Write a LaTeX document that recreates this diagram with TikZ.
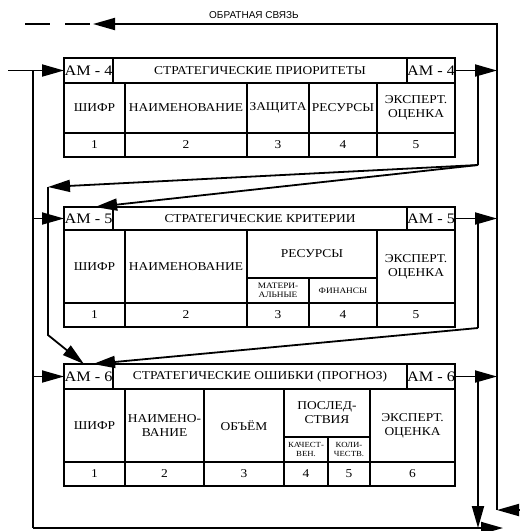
\documentclass[tikz,border=0pt]{standalone}
\usepackage{fontspec}
\setmainfont{Liberation Serif}[FakeStretch=1.12]
\newfontfamily\labelfont{Liberation Sans}
\usetikzlibrary{arrows.meta}

\begin{document}
\begin{tikzpicture}[x=1pt, y=-1pt,
                   cell/.style 2 args={draw, rectangle, line width=1.8pt, anchor=north west, outer sep=0pt, inner sep=0pt,
                                       minimum width=#1pt, minimum height=#2pt, align=center, font=\fontsize{12}{14}\selectfont},
                   amcell/.style={font=\fontsize{14.5}{16}\selectfont},
                   small/.style={font=\fontsize{8.3}{8.8}\selectfont},
                   tiny/.style={font=\fontsize{7.8}{8.3}\selectfont},
                   link/.style={line width=1.8pt},
                   arr/.style={line width=1.8pt, -{Triangle[length=22pt, width=12pt]}}]
\useasboundingbox (0,0) rectangle (520,531);

% table AM-4
\node[cell={49}{25}, amcell] (t1aml) at (64,58) {АМ - 4};
\node[cell={294}{25}] (t1head) at (113,58) {СТРАТЕГИЧЕСКИЕ ПРИОРИТЕТЫ};
\node[cell={48}{25}, amcell] (t1amr) at (407,58) {АМ - 4};
\node[cell={61}{50}] (t1code) at (64,83) {ШИФР};
\node[cell={122}{50}] (t1name) at (125,83) {НАИМЕНОВАНИЕ};
\node[cell={62}{50}] (t1prot) at (247,83) {ЗАЩИТА};
\node[cell={68}{50}] (t1res) at (309,83) {РЕСУРСЫ};
\node[cell={78}{50}] (t1exp) at (377,83) {ЭКСПЕРТ.\\ОЦЕНКА};
\node[cell={61}{24}] (t1n1) at (64,133) {1};
\node[cell={122}{24}] (t1n2) at (125,133) {2};
\node[cell={62}{24}] (t1n3) at (247,133) {3};
\node[cell={68}{24}] (t1n4) at (309,133) {4};
\node[cell={78}{24}] (t1n5) at (377,133) {5};

% table AM-5
\node[cell={49}{23}, amcell] (t2aml) at (64,207) {АМ - 5};
\node[cell={294}{23}] (t2head) at (113,207) {СТРАТЕГИЧЕСКИЕ КРИТЕРИИ};
\node[cell={48}{23}, amcell] (t2amr) at (407,207) {АМ - 5};
\node[cell={61}{73}] (t2code) at (64,230) {ШИФР};
\node[cell={122}{73}] (t2name) at (125,230) {НАИМЕНОВАНИЕ};
\node[cell={130}{48}] (t2res) at (247,230) {РЕСУРСЫ};
\node[cell={62}{25}, small] (t2mat) at (247,278) {МАТЕРИ-\\АЛЬНЫЕ};
\node[cell={68}{25}, small] (t2fin) at (309,278) {ФИНАНСЫ};
\node[cell={78}{73}] (t2exp) at (377,230) {ЭКСПЕРТ.\\ОЦЕНКА};
\node[cell={61}{24}] (t2n1) at (64,303) {1};
\node[cell={122}{24}] (t2n2) at (125,303) {2};
\node[cell={62}{24}] (t2n3) at (247,303) {3};
\node[cell={68}{24}] (t2n4) at (309,303) {4};
\node[cell={78}{24}] (t2n5) at (377,303) {5};

% table AM-6
\node[cell={49}{25}, amcell] (t3aml) at (64,364) {АМ - 6};
\node[cell={294}{25}] (t3head) at (113,364) {СТРАТЕГИЧЕСКИЕ ОШИБКИ (ПРОГНОЗ)};
\node[cell={48}{25}, amcell] (t3amr) at (407,364) {АМ - 6};
\node[cell={61}{73}] (t3code) at (64,389) {ШИФР};
\node[cell={79}{73}] (t3name) at (125,389) {НАИМЕНО-\\ВАНИЕ};
\node[cell={80}{73}] (t3vol) at (204,389) {ОБЪЁМ};
\node[cell={86}{48}] (t3eff) at (284,389) {ПОСЛЕД-\\СТВИЯ};
\node[cell={44}{25}, tiny] (t3qual) at (284,437) {КАЧЕСТ-\\ВЕН.};
\node[cell={42}{25}, tiny] (t3quan) at (328,437) {КОЛИ-\\ЧЕСТВ.};
\node[cell={85}{73}] (t3exp) at (370,389) {ЭКСПЕРТ.\\ОЦЕНКА};
\node[cell={61}{24}] (t3n1) at (64,462) {1};
\node[cell={79}{24}] (t3n2) at (125,462) {2};
\node[cell={80}{24}] (t3n3) at (204,462) {3};
\node[cell={44}{24}] (t3n4) at (284,462) {4};
\node[cell={42}{24}] (t3n5) at (328,462) {5};
\node[cell={85}{24}] (t3n6) at (370,462) {6};

% feedback and links
\node[font=\labelfont\fontsize{10}{11}\selectfont] (fbtext) at (254,15) {ОБРАТНАЯ СВЯЗЬ};
\coordinate (inl) at (8,70.5);
\coordinate (lbus) at (33,528);
\coordinate (rbus) at (497,24);
\coordinate (fb) at (93,24);
\coordinate (fbend) at (25,24);
\coordinate (kink1) at (478,165);
\coordinate (corner) at (48,187);
\coordinate (bend) at (48,335);
\coordinate (kink2) at (478,328);
\coordinate (drop) at (478,528);
\coordinate (out) at (503,528);
\coordinate (rbot) at (497,510);
\coordinate (inr) at (520,510);

\draw[arr] (inl) -- (t1aml.west);
\draw[link] (inl -| lbus) -- (lbus);
\draw[arr] (lbus) -- (out);
\draw[arr] (t2aml.west -| lbus) -- (t2aml.west);
\draw[arr] (t3aml.west -| lbus) -- (t3aml.west);
\draw[arr] (t1amr.east) -- (t1amr.east -| rbus);
\draw[arr] (t2amr.east) -- (t2amr.east -| rbus);
\draw[arr] (t3amr.east) -- (t3amr.east -| rbus);
\draw[arr] (rbot) -- (rbus) -- (fb);
\draw[link, dash pattern=on 25pt off 15pt] (fbend) -- (fb);
\draw[arr] (inr) -- (rbot);
\draw[link] (t1amr.east -| kink1) -- (kink1);
\draw[arr] (kink1) -- (corner);
\draw[arr] (kink1) -- (t2aml.60);
\draw[arr] (corner) -- (bend) -- (t3aml.110);
\draw[link] (t2amr.east -| kink2) -- (kink2);
\draw[arr] (kink2) -- (t3aml.70);
\draw[arr] (t3amr.east -| drop) -- (drop);
\end{tikzpicture}
\end{document}
